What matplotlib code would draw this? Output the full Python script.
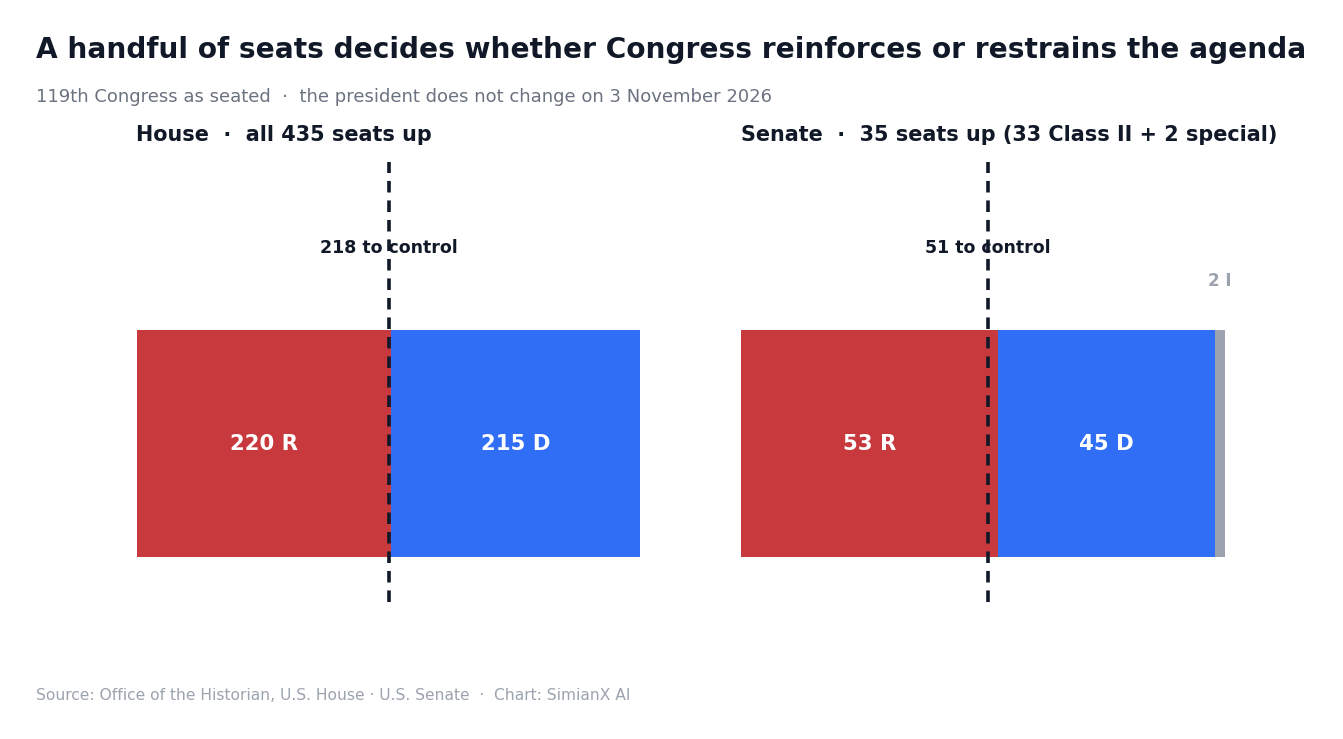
import matplotlib
matplotlib.use("Agg")
import matplotlib.pyplot as plt

# Data
house_parties = ["R", "D"]
house_seats = [220, 215]
house_control = 218
senate_parties = ["R", "D", "I"]
senate_seats = [53, 45, 2]
senate_control = 51

title = "A handful of seats decides whether Congress reinforces or restrains the agenda"
subtitle = "119th Congress as seated  \u00b7  the president does not change on 3 November 2026"
house_title = "House  \u00b7  all 435 seats up"
senate_title = "Senate  \u00b7  35 seats up (33 Class II + 2 special)"
source = "Source: Office of the Historian, U.S. House \u00b7 U.S. Senate  \u00b7  Chart: SimianX AI"

colors = {"R": "#C8393D", "D": "#2F6EF5", "I": "#9CA3AF"}
dark = "#111827"

plt.rcParams["font.family"] = ["DejaVu Sans"]
fig = plt.figure(figsize=(13.43, 7.39), dpi=100)
fig.patch.set_facecolor("white")

ax1 = fig.add_axes([137/1343, 137/739, 503/1343, 440/739])
ax2 = fig.add_axes([741/1343, 137/739, 484/1343, 440/739])

YLIM = (-0.349, 0.62)


def draw(ax, parties, seats, control):
    left = 0
    total = sum(seats)
    for p, s in zip(parties, seats):
        ax.barh(0, s, left=left, height=0.5, color=colors[p], zorder=2)
        if s >= 10:
            ax.text(left + s / 2, 0, f"{s} {p}", ha="center", va="center",
                    color="white", fontsize=15.3, fontweight="bold", zorder=3)
        else:
            ax.text(left + s / 2, 0.358, f"{s} {p}", ha="center", va="center",
                    color="#9CA3AF", fontsize=12, fontweight="bold", zorder=3)
        left += s
    ax.text(control, 0.430, f"{control} to control", ha="center", va="center",
            color=dark, fontsize=12.5, fontweight="bold", zorder=3)
    ax.axvline(control, color=dark, linestyle=(0, (3.2, 2.2)), linewidth=2.6, zorder=4)
    ax.set_xlim(0, total)
    ax.set_ylim(*YLIM)
    ax.axis("off")


draw(ax1, house_parties, house_seats, house_control)
draw(ax2, senate_parties, senate_seats, senate_control)

fig.text(36/1343, 1 - 50/739, title, fontsize=20.2, fontweight="bold", color=dark,
         ha="left", va="center")
fig.text(36/1343, 1 - 97/739, subtitle, fontsize=13, color="#6B7280",
         ha="left", va="center")
fig.text(136/1343, 1 - 135/739, house_title, fontsize=14.95, fontweight="bold", color=dark,
         ha="left", va="center")
fig.text(741/1343, 1 - 135/739, senate_title, fontsize=14.95, fontweight="bold", color=dark,
         ha="left", va="center")
fig.text(36/1343, 1 - 695/739, source, fontsize=11.13, color="#9CA3AF",
         ha="left", va="center")

fig.savefig("out.png", dpi=100, facecolor="white")
